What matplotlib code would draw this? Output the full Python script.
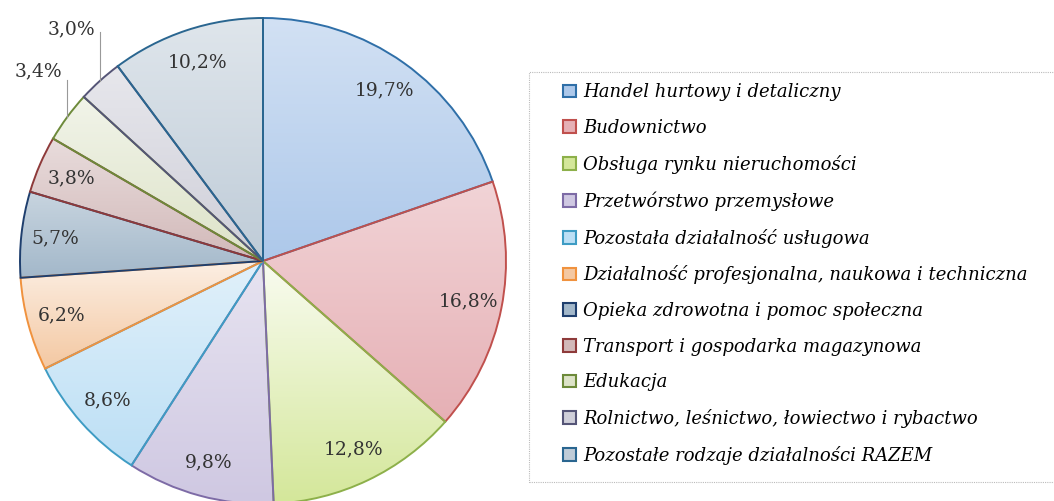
import numpy as np
import matplotlib
matplotlib.use("Agg")
import matplotlib.pyplot as plt
from matplotlib.patches import Patch, Rectangle
from matplotlib.colors import to_rgb

categories = [
    "Handel hurtowy i detaliczny",
    "Budownictwo",
    "Obsługa rynku nieruchomości",
    "Przetwórstwo przemysłowe",
    "Pozostała działalność usługowa",
    "Działalność profesjonalna, naukowa i techniczna",
    "Opieka zdrowotna i pomoc społeczna",
    "Transport i gospodarka magazynowa",
    "Edukacja",
    "Rolnictwo, leśnictwo, łowiectwo i rybactwo",
    "Pozostałe rodzaje działalności RAZEM",
]
shares = [19.7, 16.8, 12.8, 9.8, 8.6, 6.2, 5.7, 3.8, 3.4, 3.0, 10.2]

# fill (darker end of gradient) and outline colours per slice
fills = ["#adc8ea", "#e6b0b5", "#d4e79a", "#cfc8e2", "#bcdff5", "#f4c8a2",
         "#a3b8ca", "#d2b9b9", "#dde3c8", "#cfcfd9", "#bfccd8"]
edges = ["#2f6fa8", "#c0504d", "#8db04a", "#7d6ba6", "#3e9cc4", "#f0923e",
         "#1f3f6e", "#8e3a3a", "#6d8a3a", "#555577", "#2a6690"]
# how much lighter the top of each slice is
lift = [0.45, 0.45, 0.85, 0.5, 0.55, 0.7, 0.4, 0.5, 0.6, 0.5, 0.5]
outside = [False] * 8 + [True, True, False]

fig = plt.figure(figsize=(10.54, 5.01), dpi=100)
cx, cy, R = 263, 261, 243
ax = fig.add_axes([(cx - R) / 1054, (501 - cy - R) / 501, 2 * R / 1054, 2 * R / 501])

wedges, _ = ax.pie(shares, startangle=90, counterclock=False, radius=1,
                   colors=["none"] * len(shares),
                   wedgeprops=dict(edgecolor="none"))
ax.set_aspect("equal")
ax.axis("off")

for w, fc, ec, k in zip(wedges, fills, edges, lift):
    ext = w.get_path().get_extents()
    bot = np.array(to_rgb(fc))
    top = bot * (1 - k) + k
    t = np.linspace(0, 1, 64)[:, None]
    grad = top * (1 - t) + bot * t
    img = np.repeat(grad[:, None, :], 2, axis=1)
    im = ax.imshow(img, extent=[ext.x0, ext.x1, ext.y0, ext.y1],
                   origin="upper", aspect="auto", zorder=1, interpolation="bilinear")
    im.set_clip_path(w)
    w.set_zorder(2)
    w.set_edgecolor(ec)
    w.set_linewidth(1.4)
ax.set_xlim(-1, 1)
ax.set_ylim(-1, 1)

label_font = dict(family="DejaVu Serif", fontsize=13.5, color="#333333")
# text offsets for the two small slices that are labelled outside
out_pos = {8: (-0.925, 0.78, 0.745), 9: (-0.79, 0.955, 0.942)}
for i, (w, v) in enumerate(zip(wedges, shares)):
    txt = f"{v:.1f}%".replace(".", ",")
    ang = np.deg2rad((w.theta1 + w.theta2) / 2)
    if not outside[i]:
        r = 0.86
        ax.text(r * np.cos(ang), r * np.sin(ang), txt, ha="center", va="center",
                zorder=5, **label_font)
    else:
        tx, ty, ly = out_pos[i]
        ex, ey = np.cos(ang), np.sin(ang)
        ax.plot([ex, ex], [ey, ly], color="#999999", lw=0.8, clip_on=False, zorder=5)
        ax.text(tx, ty, txt, ha="center", va="center", zorder=5, clip_on=False,
                **label_font)

# legend frame running off the right edge
fig.patches.append(Rectangle((529 / 1054, (501 - 482) / 501), 0.6, (482 - 72) / 501,
                             transform=fig.transFigure, fill=False,
                             edgecolor="#bbbbbb", lw=0.8, ls=(0, (1, 1))))

handles = [Patch(facecolor=fc, edgecolor=ec, lw=1.5) for fc, ec in zip(fills, edges)]
fig.legend(handles, categories, loc="center left", bbox_to_anchor=(563 / 1054, 1 - 274 / 501),
           frameon=False, borderpad=0, borderaxespad=0, handlelength=0.7,
           handleheight=0.7, handletextpad=0.4, labelspacing=0.98,
           prop=dict(family="DejaVu Serif", style="italic", size=13))

fig.savefig("out.png", dpi=100)
